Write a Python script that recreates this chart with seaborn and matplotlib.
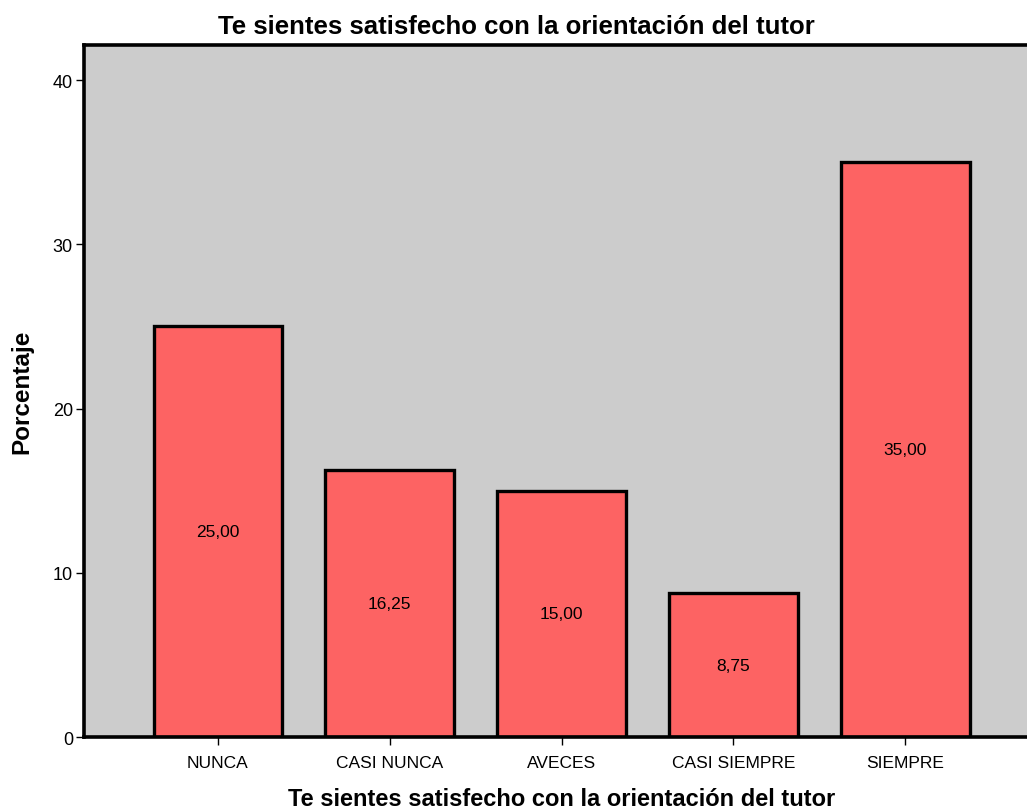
import matplotlib
matplotlib.use('Agg')
import matplotlib.pyplot as plt
import seaborn as sns
import pandas as pd

# survey answers and percentages
categorias = ['NUNCA', 'CASI NUNCA', 'AVECES', 'CASI SIEMPRE', 'SIEMPRE']
porcentajes = [25.00, 16.25, 15.00, 8.75, 35.00]
titulo = 'Te sientes satisfecho con la orientación del tutor'

df = pd.DataFrame({'cat': categorias, 'pct': porcentajes})

sns.set_style('white')
plt.rcParams['font.family'] = ['Liberation Sans', 'DejaVu Sans']
plt.rcParams['text.color'] = 'black'
plt.rcParams['axes.labelcolor'] = 'black'
plt.rcParams['xtick.color'] = 'black'
plt.rcParams['ytick.color'] = 'black'

fig = plt.figure(figsize=(10.27, 8.12), dpi=100)
ax = fig.add_axes([0.0818, 0.0911, 0.93, 0.8522])
ax.set_facecolor('#cccccc')

sns.barplot(data=df, x='cat', y='pct', color='#fd6363', saturation=1,
            edgecolor='black', linewidth=2.4, width=0.75, ax=ax)

# labels in the middle of each bar, comma decimals
etiquetas = ['{:.2f}'.format(v).replace('.', ',') for v in porcentajes]
ax.bar_label(ax.containers[0], labels=etiquetas, label_type='center',
             fontsize=12.5, color='black')

ax.set_xlim(-0.78, 4.78)
ax.set_ylim(0, 42.13)
ax.set_yticks([0, 10, 20, 30, 40])

for s in ['left', 'bottom', 'top']:
    ax.spines[s].set_visible(True)
    ax.spines[s].set_linewidth(2.6)
    ax.spines[s].set_color('black')
ax.spines['right'].set_visible(False)

ax.tick_params(axis='both', which='both', direction='out', length=6, width=1,
               color='black', bottom=True, left=True)
ax.tick_params(axis='x', labelsize=12.5, pad=7)
ax.tick_params(axis='y', labelsize=13, pad=2)

fig.text(0.503, 0.967, titulo, fontsize=18.5, fontweight='bold',
         ha='center', va='center')
ax.set_xlabel(titulo, fontsize=17, fontweight='bold', labelpad=12)
ax.set_ylabel('Porcentaje', fontsize=17.5, fontweight='bold', labelpad=14)

plt.savefig('out.png', dpi=100)
